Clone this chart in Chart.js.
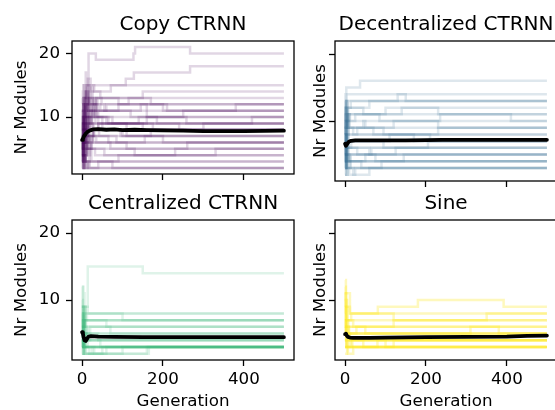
<!DOCTYPE html>
<html>
<head>
<meta charset="utf-8">
<script src="https://cdn.jsdelivr.net/npm/chart.js@4.4.0/dist/chart.umd.min.js"></script>
<style>
html, body { margin: 0; padding: 0; background: #fff; overflow: hidden; width: 555px; height: 410px; }
canvas { position: absolute; }
</style>
</head>
<body>
<canvas id="copyChart" width="300" height="190" style="left:0px;top:0px"></canvas>
<canvas id="decChart" width="262" height="190" style="left:300px;top:0px"></canvas>
<canvas id="cenChart" width="300" height="226" style="left:0px;top:190px"></canvas>
<canvas id="sineChart" width="262" height="226" style="left:300px;top:190px"></canvas>
<script>

// Tick labels and range
var xTicks = [0, 200, 400];
var yTicks = [10, 20];
var lastGen = 499;

// Each run: [generation, nr modules] at the points where the count changes
var copyRuns = [
    [[0,13],[2,11],[4,15],[7,13],[9,17],[12,15],[16,20],[34,19],[127,20],[131,21],[267,20]],
    [[0,10],[3,12],[5,13],[8,11],[11,15],[17,13],[22,15],[30,14],[71,15],[108,16],[128,17],[267,18]],
    [[0,8],[2,11],[4,9],[7,14],[10,12],[14,16],[21,14],[27,15]],
    [[0,9],[2,7],[4,12],[7,10],[10,14],[15,12],[22,13],[150,14]],
    [[0,7],[2,10],[5,8],[8,12],[12,10],[17,13],[26,11],[34,13],[48,12],[115,13]],
    [[0,6],[3,9],[6,7],[9,12],[14,10],[20,11],[31,13],[38,11],[90,12]],
    [[0,11],[3,13],[5,9],[9,11],[12,12],[19,10],[25,12],[35,13],[170,12]],
    [[0,5],[2,8],[4,6],[6,10],[10,8],[15,11],[24,9],[33,11],[60,12],[200,11]],
    [[0,8],[2,6],[4,10],[8,12],[13,11],[19,13],[28,12],[45,11]],
    [[0,6],[3,8],[5,11],[8,10],[13,9],[25,11],[120,10]],
    [[0,4],[2,7],[4,5],[7,9],[11,8],[18,10],[29,12],[37,10],[75,9],[160,10]],
    [[0,7],[2,5],[4,9],[7,8],[11,10],[20,8],[40,9]],
    [[0,5],[3,7],[6,6],[10,8],[16,7],[28,9],[140,10],[258,9]],
    [[0,9],[2,11],[4,13],[6,8],[10,10],[19,9]],
    [[0,3],[2,6],[4,4],[6,8],[9,7],[14,9],[23,10],[50,8]],
    [[0,6],[2,4],[5,8],[8,6],[12,7],[30,8],[95,7],[170,8]],
    [[0,10],[3,7],[5,9],[9,6],[14,9],[22,8]],
    [[0,4],[3,6],[5,9],[8,7],[13,5],[20,8],[100,7]],
    [[0,7],[2,5],[4,7],[6,8],[10,6],[16,7],[65,6],[155,7]],
    [[0,5],[2,3],[4,7],[9,5],[13,6],[27,8],[42,7]],
    [[0,6],[2,4],[4,8],[7,6],[13,5],[24,7],[85,6]],
    [[0,3],[3,5],[5,8],[9,7],[14,9],[27,6],[110,5],[260,6]],
    [[0,8],[2,10],[4,6],[8,4],[11,5],[20,7],[35,6]],
    [[0,4],[2,6],[4,3],[8,5],[12,7],[18,6],[70,5]],
    [[0,2],[3,4],[5,3],[9,6],[14,4],[20,5],[130,4],[230,5]],
    [[0,5],[2,7],[5,3],[8,4],[12,5],[55,4],[330,5]],
    [[0,3],[2,5],[4,2],[7,4],[11,6],[23,3],[90,4]],
    [[0,6],[3,4],[6,5],[10,3],[18,5],[32,4]],
    [[0,2],[2,3],[4,4],[8,2],[14,3]],
    [[0,4],[2,2],[5,4],[8,3]],
    [[0,3],[2,4],[5,2],[12,3],[19,2]],
    [[0,2],[3,4],[6,3],[16,2]],
    [[0,5],[3,3],[7,2],[40,3],[75,2]],
    [[0,7],[2,9],[5,12],[10,14],[16,12],[33,10],[60,9],[175,8]],
    [[0,4],[3,6],[8,9],[15,11],[40,9],[110,7],[200,6]],
    [[0,12],[2,14],[4,15],[7,13],[11,15],[18,12],[26,14],[45,13],[90,12],[210,11],[380,12]],
    [[0,9],[3,12],[6,10],[10,13],[17,11],[30,10],[65,9],[240,8]],
    [[0,6],[2,9],[5,7],[9,10],[15,8],[40,9],[150,8],[300,9]],
    [[0,11],[2,8],[5,10],[9,7],[16,10],[185,9],[420,10]],
    [[0,5],[2,7],[4,10],[8,13],[14,11],[24,12],[55,11],[145,12],[160,10],[250,11]]
];
var copyMean = [[0,6.4],[2,6.6],[4,6.9],[7,7.2],[10,7.45],[14,7.7],[20,7.9],[28,8.05],[40,8.1],[60,8.0],[80,8.05],[100,7.95],[130,8.0],[160,7.95],[200,7.9],[250,7.85],[300,7.8],[350,7.8],[400,7.8],[450,7.82],[499,7.85]];

var decRuns = [
    [[0,12],[1,14],[3,15],[37,16]],
    [[0,10],[2,13],[4,14]],
    [[0,9],[1,11],[2,12],[4,10],[6,13],[130,14],[150,13]],
    [[0,11],[2,9],[3,13],[5,11],[8,12],[60,13]],
    [[0,8],[1,10],[2,11],[4,9],[5,12],[45,11],[140,12]],
    [[0,7],[1,9],[3,10],[5,8],[9,11],[100,12],[230,11]],
    [[0,9],[2,7],[4,11],[6,10],[25,11],[85,10],[235,11],[410,10]],
    [[0,6],[2,8],[4,9],[7,11],[12,10],[50,9],[120,10]],
    [[0,8],[1,12],[3,10],[7,9]],
    [[0,5],[2,8],[4,6],[6,10],[10,9],[70,8],[230,9]],
    [[0,7],[2,5],[5,8],[30,9],[95,8]],
    [[0,10],[2,7],[4,9],[8,8]],
    [[0,6],[1,4],[3,8],[9,7],[110,8],[210,7]],
    [[0,4],[2,6],[4,8],[7,7]],
    [[0,8],[2,10],[4,6],[15,7],[95,6],[205,7]],
    [[0,5],[1,8],[3,7],[8,6]],
    [[0,3],[2,5],[4,7],[9,6],[60,5],[125,6]],
    [[0,6],[2,8],[4,4],[10,5]],
    [[0,4],[3,6],[6,3],[14,5],[75,4],[145,5]],
    [[0,3],[2,6],[5,4]],
    [[0,5],[2,3],[5,6],[9,4],[40,3],[90,4]],
    [[0,2],[2,5],[4,3]],
    [[0,4],[3,2],[6,4],[12,3]],
    [[0,13],[2,11],[4,12],[6,9],[20,8],[170,7]],
    [[0,6],[2,9],[5,11],[11,9],[45,10],[230,9]],
    [[0,3],[3,5],[8,4],[50,5]],
    [[0,7],[3,5],[7,6],[30,5],[65,6]],
    [[0,4],[3,3],[10,2],[25,3]],
    [[0,2],[5,3],[20,2],[60,3]],
    [[0,5],[3,4]],
    [[0,3],[4,5],[12,4]],
    [[0,6],[2,4],[6,5]],
    [[0,12],[1,9],[3,13],[6,12],[14,13]],
    [[0,10],[2,12],[4,10],[8,11]]
];
var decMean = [[0,6.6],[2,6.3],[4,6.45],[7,6.75],[10,6.95],[15,7.05],[25,7.1],[50,7.1],[100,7.1],[150,7.12],[200,7.15],[240,7.2],[300,7.2],[400,7.2],[499,7.2]];

var cenRuns = [
    [[0,9],[2,12],[3,11],[6,9],[14,15],[150,14]],
    [[0,6],[2,9],[4,7],[7,9],[14,8]],
    [[0,7],[2,5],[4,9],[8,7],[12,8],[100,7]],
    [[0,5],[2,8],[5,6],[10,7]],
    [[0,9],[2,6],[5,7]],
    [[0,4],[3,6],[6,8],[9,7],[60,6]],
    [[0,6],[2,9],[4,8],[8,5],[15,6]],
    [[0,8],[2,5],[5,7],[8,6]],
    [[0,3],[2,6],[4,5],[10,4],[20,6],[70,5]],
    [[0,5],[3,7],[6,4],[10,5]],
    [[0,4],[2,7],[6,5]],
    [[0,6],[2,4],[5,6],[9,5],[40,4]],
    [[0,3],[2,5],[5,4]],
    [[0,5],[3,3],[6,5],[12,4]],
    [[0,2],[2,4],[4,3]],
    [[0,4],[2,2],[4,5],[8,3]],
    [[0,3],[3,5],[6,2],[160,3]],
    [[0,2],[4,4],[10,3],[30,2],[100,3]],
    [[0,7],[3,4],[6,3],[10,2],[25,3]],
    [[0,12],[2,9],[5,6],[12,4]],
    [[0,5],[4,3],[18,2],[165,3]],
    [[0,4],[5,2],[60,3]],
    [[0,3],[2,4],[7,3]],
    [[0,2],[3,3]],
    [[0,4],[4,3]],
    [[0,5],[2,3]],
    [[0,3],[8,2],[50,3]],
    [[0,6],[3,3],[14,4],[45,3]],
    [[0,10],[2,7],[4,9],[9,8]],
    [[0,8],[3,6],[7,7]]
];
var cenMean = [[0,5.2],[2,5.0],[4,4.4],[6,4.0],[9,3.9],[12,4.2],[16,4.55],[22,4.6],[40,4.55],[80,4.5],[150,4.45],[250,4.45],[350,4.45],[499,4.45]];

var sineRuns = [
    [[0,13],[2,11],[12,8],[81,9],[180,10],[392,9]],
    [[0,12],[2,10],[3,9],[12,8]],
    [[0,9],[1,11],[3,7],[15,8],[120,7],[350,8]],
    [[0,8],[2,10],[5,7]],
    [[0,6],[3,7],[20,6],[120,7]],
    [[0,7],[2,9],[6,6]],
    [[0,5],[4,6],[50,5],[310,6]],
    [[0,9],[2,6],[10,5]],
    [[0,4],[3,5],[28,6],[380,5]],
    [[0,5],[2,7],[8,4]],
    [[0,3],[4,4],[45,3],[120,4]],
    [[0,6],[2,4],[15,3],[80,4]],
    [[0,4],[3,3]],
    [[0,3],[7,2],[20,3]],
    [[0,2],[5,3]],
    [[0,5],[3,3]],
    [[0,7],[2,5],[12,4]],
    [[0,4],[6,3],[18,4],[100,3]],
    [[0,3],[10,4]],
    [[0,6],[3,5]],
    [[0,11],[2,6],[8,5]]
];
var sineMean = [[0,4.9],[2,5.0],[4,4.7],[7,4.5],[12,4.4],[20,4.35],[60,4.35],[100,4.4],[200,4.45],[300,4.5],[400,4.55],[450,4.65],[499,4.7]];

Chart.defaults.font.family = "'DejaVu Sans', sans-serif";
Chart.defaults.color = '#000';

function toPoints(pairs) {
    return pairs.map(p => ({x: p[0], y: p[1]}));
}

// extend every run flat to the last generation
function runPoints(run) {
    var pts = run.slice();
    pts.push([lastGen, run[run.length - 1][1]]);
    return toPoints(pts);
}

// full box around the plot like matplotlib spines
var framePlugin = {
    id: 'frame',
    afterDatasetsDraw(chart) {
        var a = chart.chartArea;
        var ctx = chart.ctx;
        ctx.save();
        ctx.strokeStyle = '#000';
        ctx.lineWidth = 1.3;
        ctx.strokeRect(a.left, a.top, a.right - a.left, a.bottom - a.top);
        ctx.restore();
    }
};

function makePanel(id, title, runs, mean, color, isLeft, isBottom) {
    var datasets = [{
        data: toPoints(mean),
        borderColor: '#000',
        borderWidth: 3.8,
        borderJoinStyle: 'round',
        borderCapStyle: 'round',
        pointRadius: 0
    }];
    runs.forEach(r => {
        datasets.push({
            data: runPoints(r),
            borderColor: color,
            borderWidth: 2.5,
            stepped: true,
            pointRadius: 0
        });
    });

    new Chart(document.getElementById(id), {
        type: 'line',
        data: { datasets: datasets },
        plugins: [framePlugin],
        options: {
            responsive: false,
            animation: false,
            layout: { padding: { right: isLeft ? 6 : 5 } },
            plugins: {
                legend: { display: false },
                tooltip: { enabled: false },
                title: {
                    display: true,
                    text: title,
                    fullSize: false,
                    color: '#000',
                    font: { size: 20, weight: 'normal' },
                    padding: { top: isBottom ? 1.7 : 12.7, bottom: 4.3 }
                }
            },
            scales: {
                x: {
                    type: 'linear',
                    min: -24.95,
                    max: 523.95,
                    afterBuildTicks: s => { s.ticks = xTicks.map(v => ({value: v})); },
                    afterFit: s => { s.height = isBottom ? 56 : 9; },
                    ticks: { display: isBottom, padding: 4, font: { size: 16.7 } },
                    grid: { drawOnChartArea: false, drawTicks: true, tickLength: 6, tickColor: '#000', tickWidth: 1.3 },
                    border: { display: false },
                    title: { display: isBottom, text: 'Generation', font: { size: 16.7 }, padding: { top: 0, bottom: 4 } }
                },
                y: {
                    type: 'linear',
                    min: 1.05,
                    max: 21.95,
                    afterBuildTicks: s => { s.ticks = yTicks.map(v => ({value: v})); },
                    afterFit: s => { s.width = isLeft ? 72 : 35; },
                    ticks: { display: isLeft, padding: 6, font: { size: 16.7 } },
                    grid: { drawOnChartArea: false, drawTicks: true, tickLength: 6, tickColor: '#000', tickWidth: 1.3 },
                    border: { display: false },
                    title: { display: true, text: 'Nr Modules', font: { size: 16.7 }, padding: { top: isLeft ? 12 : 11, bottom: 0 } }
                }
            }
        }
    });
}

makePanel('copyChart', 'Copy CTRNN', copyRuns, copyMean, 'rgba(68,1,84,0.16)', true, false);
makePanel('decChart', 'Decentralized CTRNN', decRuns, decMean, 'rgba(49,104,142,0.16)', false, false);
makePanel('cenChart', 'Centralized CTRNN', cenRuns, cenMean, 'rgba(53,183,121,0.16)', true, true);
makePanel('sineChart', 'Sine', sineRuns, sineMean, 'rgba(253,231,37,0.3)', false, true);
</script>
</body>
</html>
